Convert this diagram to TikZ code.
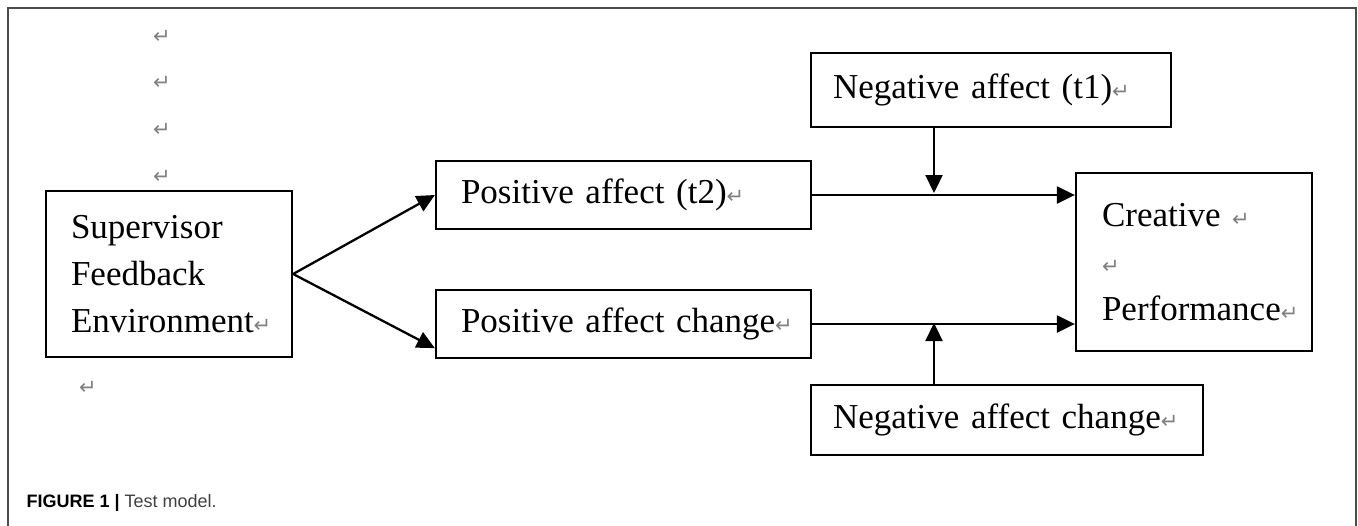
\documentclass[tikz,border=0pt]{standalone}
\usepackage{fontspec}
\setmainfont{Liberation Serif}
\newfontfamily\markfont{DejaVu Sans}
\newfontfamily\capfont{Liberation Sans}
\usetikzlibrary{arrows.meta,positioning}
\newcommand{\pmark}{{\color{black!50}\markfont\fontsize{21}{21}\selectfont ↵}}

\begin{document}
\begin{tikzpicture}[x=1pt,y=-1pt,on grid,
    box/.style={draw,rectangle,line width=2.3pt,inner xsep=25pt,inner ysep=0pt,align=left,font=\fontsize{35}{47}\selectfont},
    arr/.style={-{Triangle[length=18pt,width=17pt]},line width=2.3pt}]

	\useasboundingbox (0,0) rectangle (1358,525);
	\draw[black!70,line width=1.6pt] (8,530) -- (8,8) -- (1356,8) -- (1356,530);

	\node[box,text width=196pt,minimum height=166pt] (sf) at (169,274) {Supervisor\\Feedback\\Environment\pmark};
	\node[box,text width=325pt,minimum height=68pt] (pt2) [above right=79pt and 454.5pt of sf] {\mbox{Positive affect (t2)\pmark}};
	\node[box,text width=325pt,minimum height=68pt] (pc) [below=129pt of pt2] {\mbox{Positive affect change\pmark}};
	\node[box,inner xsep=22pt,text width=316pt,minimum height=74pt] (na1) [above right=105pt and 367.5pt of pt2] {\mbox{Negative affect (t1)\pmark}};
	\node[box,inner xsep=22pt,text width=348pt,minimum height=70pt] (nc) [below right=330pt and 16pt of na1] {\mbox{Negative affect change\pmark}};
	\node[box,inner xsep=26pt,text width=184pt,minimum height=178pt] (cp) [below right=172pt and 203pt of na1] {\mbox{Creative \pmark}\\\pmark\\\mbox{Performance\pmark}};

	\foreach \y [count=\i] in {37,83,130,177}
		\node (r\i) at (162,\y) {\pmark};
	\node (r5) at (88,388) {\pmark};

	\node[anchor=west,font=\capfont\fontsize{18}{18}\selectfont] (cap) at (23,503) {\textbf{FIGURE 1 |} {\color{black!75}Test model.}};

	\coordinate (m1) at (934,193);
	\coordinate (m2) at (934,323);

	\path[arr]
		(sf.east)	edge (pt2.west)
					edge ([yshift=11pt]pc.south west)
		(pt2.east)	edge (pt2.east -| cp.west)
		(pc.east)	edge (pc.east -| cp.west)
		(na1.south -| m1) edge (m1)
		(nc.north -| m2) edge (m2);
\end{tikzpicture}
\end{document}
